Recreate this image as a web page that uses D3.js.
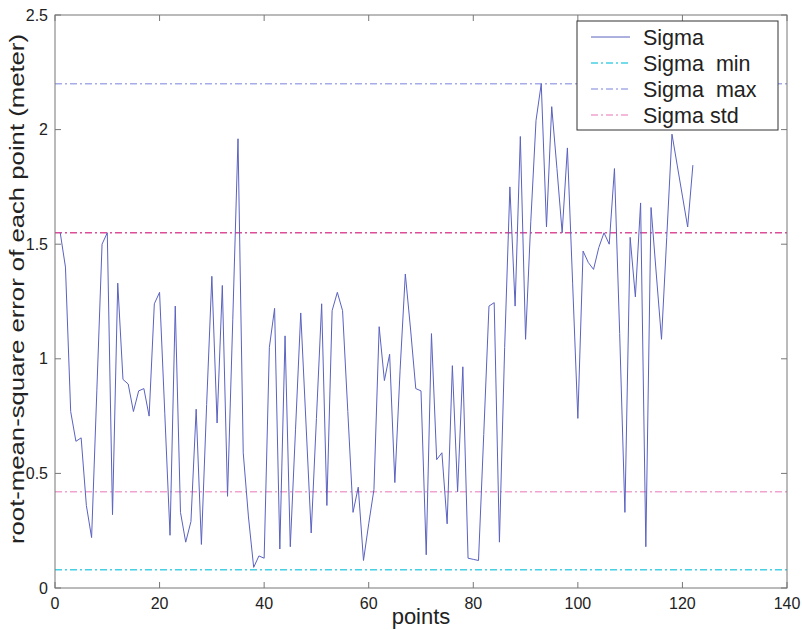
<!DOCTYPE html>
<html lang="en">
<head>
    <meta charset="UTF-8">
    <title>Sigma</title>
    <style>
        body { margin: 0; background: #fff; }
        text { font-family: "Liberation Sans", Arial, sans-serif; fill: #222; }
    </style>
</head>
<body>

<div id="chart"></div>

<script src="https://cdn.jsdelivr.net/npm/d3@7"></script>
<script>
    const width = 802,
          height = 630;

    // RMS error per point (points 1..122)
    const sigma = [
        1.55, 1.40, 0.77, 0.64, 0.655, 0.36, 0.22, 0.86, 1.50, 1.55,
        0.32, 1.33, 0.91, 0.89, 0.77, 0.86, 0.87, 0.75, 1.24, 1.29,
        0.76, 0.23, 1.23, 0.33, 0.20, 0.29, 0.78, 0.19, 0.80, 1.36,
        0.72, 1.32, 0.40, 1.17, 1.96, 0.59, 0.31, 0.09, 0.14, 0.13,
        1.05, 1.22, 0.17, 1.10, 0.18, 0.69, 1.20, 0.72, 0.24, 0.74,
        1.24, 0.36, 1.21, 1.29, 1.21, 0.77, 0.33, 0.44, 0.12, 0.28,
        0.43, 1.14, 0.905, 1.02, 0.46, 0.95, 1.37, 1.13, 0.87, 0.86,
        0.145, 1.11, 0.56, 0.59, 0.28, 0.97, 0.42, 0.965, 0.13, 0.125,
        0.12, 0.67, 1.23, 1.245, 0.20, 1.05, 1.75, 1.23, 1.97, 1.085,
        1.60, 2.04, 2.20, 1.575, 2.10, 1.83, 1.55, 1.92, 1.33, 0.74,
        1.47, 1.42, 1.39, 1.485, 1.55, 1.50, 1.83, 1.11, 0.33, 1.53,
        1.27, 1.68, 0.18, 1.66, 1.37, 1.085, 1.53, 1.98, 1.845, 1.71,
        1.575, 1.845
    ];
    const points = sigma.map((d, i) => i + 1);

    const sigmaMin = 0.08,
          sigmaMax = 2.2,
          sigmaStdHigh = 1.55,
          sigmaStdLow = 0.42;

    const xTicks = [0, 20, 40, 60, 80, 100, 120, 140];
    const yTicks = [0, 0.5, 1, 1.5, 2, 2.5];
    const legendNames = ["Sigma", "Sigma  min", "Sigma  max", "Sigma std"];

    const plotLeft = 55, plotRight = 787, plotTop = 15, plotBottom = 588;

    let svg = d3.select("#chart")
        .append("svg")
        .attr("width", width)
        .attr("height", height);

    let x = d3.scaleLinear().domain([0, 140]).range([plotLeft, plotRight]);
    let y = d3.scaleLinear().domain([0, 2.5]).range([plotBottom, plotTop]);

    // reference lines
    const refs = [
        {v: sigmaMin, color: "#45d0e4"},
        {v: sigmaMax, color: "#a6ace8"},
        {v: sigmaStdHigh, color: "#dc4f98"},
        {v: sigmaStdLow, color: "#efa3cf"}
    ];
    svg.append("g")
        .selectAll("line")
        .data(refs)
        .join("line")
            .attr("x1", x(0))
            .attr("x2", x(140))
            .attr("y1", d => y(d.v))
            .attr("y2", d => y(d.v))
            .attr("stroke", d => d.color)
            .attr("stroke-width", 1.5)
            .attr("stroke-dasharray", "7,3,2,3");

    // sigma line
    svg.append("path")
        .datum(points)
        .attr("fill", "none")
        .attr("stroke", "#5a62c0")
        .attr("stroke-width", 1)
        .attr("d", d3.line()
            .x(d => x(d))
            .y((d, i) => y(sigma[i]))
        );

    // axes, ticks inward on all four sides
    const tickLen = 6;
    let ax = svg.append("g").attr("stroke", "#777").attr("stroke-width", 1);

    ax.append("rect")
        .attr("x", plotLeft)
        .attr("y", plotTop)
        .attr("width", plotRight - plotLeft)
        .attr("height", plotBottom - plotTop)
        .attr("fill", "none");

    ax.append("g").selectAll("line")
        .data(xTicks)
        .join("line")
            .attr("x1", d => x(d)).attr("x2", d => x(d))
            .attr("y1", plotBottom).attr("y2", plotBottom - tickLen);
    ax.append("g").selectAll("line")
        .data(xTicks)
        .join("line")
            .attr("x1", d => x(d)).attr("x2", d => x(d))
            .attr("y1", plotTop).attr("y2", plotTop + tickLen);
    ax.append("g").selectAll("line")
        .data(yTicks)
        .join("line")
            .attr("y1", d => y(d)).attr("y2", d => y(d))
            .attr("x1", plotLeft).attr("x2", plotLeft + tickLen);
    ax.append("g").selectAll("line")
        .data(yTicks)
        .join("line")
            .attr("y1", d => y(d)).attr("y2", d => y(d))
            .attr("x1", plotRight).attr("x2", plotRight - tickLen);

    svg.append("g")
        .selectAll("text")
        .data(xTicks)
        .join("text")
            .attr("x", d => x(d))
            .attr("y", plotBottom + 21)
            .attr("text-anchor", "middle")
            .attr("font-size", 16)
            .text(d => d);

    svg.append("g")
        .selectAll("text")
        .data(yTicks)
        .join("text")
            .attr("x", plotLeft - 7)
            .attr("y", d => y(d))
            .attr("dy", "0.35em")
            .attr("text-anchor", "end")
            .attr("font-size", 16)
            .text(d => d);

    svg.append("text")
        .attr("x", (plotLeft + plotRight) / 2)
        .attr("y", 624)
        .attr("text-anchor", "middle")
        .attr("font-size", 22)
        .text("points");

    svg.append("text")
        .attr("transform", "translate(24,289) rotate(-90)")
        .attr("text-anchor", "middle")
        .attr("font-size", 21)
        .attr("textLength", 510)
        .attr("lengthAdjust", "spacingAndGlyphs")
        .text("root-mean-square error of each point (meter)");

    // legend
    const legendColors = ["#5a62c0", "#45d0e4", "#a6ace8", "#efa3cf"];
    let legend = svg.append("g");
    legend.append("rect")
        .attr("x", 577)
        .attr("y", 21)
        .attr("width", 201)
        .attr("height", 109)
        .attr("fill", "#fff")
        .attr("stroke", "#333")
        .attr("stroke-width", 1);

    let item = legend.selectAll("g")
        .data(legendNames)
        .join("g")
            .attr("transform", (d, i) => `translate(0,${37 + i * 26})`);

    item.append("line")
        .attr("x1", 591)
        .attr("x2", 630)
        .attr("stroke", (d, i) => legendColors[i])
        .attr("stroke-width", (d, i) => i === 0 ? 1 : 1.5)
        .attr("stroke-dasharray", (d, i) => i === 0 ? null : "7,3,2,3");

    item.append("text")
        .attr("x", 643)
        .attr("dy", "0.36em")
        .attr("font-size", 21.5)
        .style("white-space", "pre")
        .text(d => d);
</script>
</body>
</html>
